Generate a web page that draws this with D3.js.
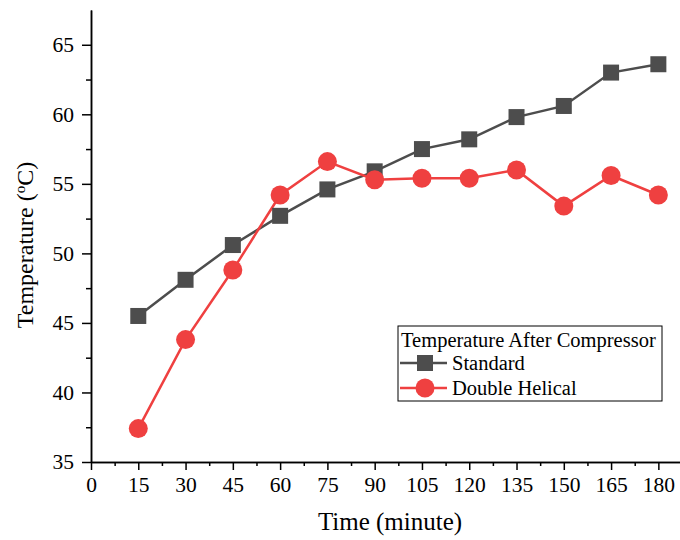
<!DOCTYPE html>
<html>
<head>
<meta charset="utf-8">
<script src="https://cdn.jsdelivr.net/npm/d3@7"></script>
<style>
  body { margin: 0; background: #fff; }
  svg text { font-family: "Liberation Serif", "Times New Roman", serif; fill: #000; }
</style>
</head>
<body>
<div id="chart"></div>
<script>
// data
var times = [15, 30, 45, 60, 75, 90, 105, 120, 135, 150, 165, 180];
var standard = [45.5, 48.1, 50.6, 52.7, 54.6, 55.9, 57.5, 58.2, 59.8, 60.6, 63.0, 63.6];
var doubleHelical = [37.4, 43.8, 48.8, 54.2, 56.6, 55.3, 55.4, 55.4, 56.0, 53.4, 55.6, 54.2];
var xTicks = [0, 15, 30, 45, 60, 75, 90, 105, 120, 135, 150, 165, 180];
var yTicks = [35, 40, 45, 50, 55, 60, 65];
var seriesNames = ["Standard", "Double Helical"];
var legendTitle = "Temperature After Compressor";

var width = 680, height = 540;
var mLeft = 91, mBottom = 462, mTop = 10, mRight = 682;

var svg = d3.select("#chart").append("svg")
    .attr("width", width)
    .attr("height", height);

var x = d3.scaleLinear().domain([0, 187.5]).range([mLeft, mRight]);
var y = d3.scaleLinear().domain([35, 67.5]).range([mBottom, mTop]);

// minor ticks
var xMinor = d3.range(7.5, 187.5, 15);
var yMinor = d3.range(37.5, 67.5, 5);

svg.append("g")
    .attr("transform", "translate(0," + mBottom + ")")
    .call(d3.axisBottom(x).tickValues(xTicks).tickSize(8).tickPadding(7).tickSizeOuter(0));
svg.append("g")
    .attr("transform", "translate(0," + mBottom + ")")
    .call(d3.axisBottom(x).tickValues(xMinor).tickSize(4).tickFormat("").tickSizeOuter(0));

svg.append("g")
    .attr("transform", "translate(" + mLeft + ",0)")
    .call(d3.axisLeft(y).tickValues(yTicks).tickSize(9).tickPadding(8).tickSizeOuter(0));
svg.append("g")
    .attr("transform", "translate(" + mLeft + ",0)")
    .call(d3.axisLeft(y).tickValues(yMinor).tickSize(5).tickFormat("").tickSizeOuter(0));

svg.selectAll(".domain").attr("stroke", "#000").attr("stroke-width", 1.5);
svg.selectAll(".tick line").attr("stroke", "#000").attr("stroke-width", 1.5);
svg.selectAll(".tick text").style("font-size", "21.5px").attr("fill", "#000");

// axis titles
svg.append("text")
    .attr("x", 390)
    .attr("y", 530)
    .attr("text-anchor", "middle")
    .style("font-size", "25px")
    .text("Time (minute)");

var yTitle = svg.append("text")
    .attr("transform", "translate(33,245) rotate(-90)")
    .attr("text-anchor", "middle")
    .style("font-size", "24px");
yTitle.append("tspan").text("Temperature (");
yTitle.append("tspan").attr("dy", -8).style("font-size", "15px").text("o");
yTitle.append("tspan").attr("dy", 8).text("C)");

var colors = ["#4d4d4d", "#ef4040"];
var allSeries = [standard, doubleHelical];

var line = d3.line()
    .x(function (d, i) { return x(times[i]); })
    .y(function (d) { return y(d); });

allSeries.forEach(function (s, k) {
    svg.append("path")
        .datum(s)
        .attr("fill", "none")
        .attr("stroke", colors[k])
        .attr("stroke-width", 2.5)
        .attr("d", line);
});

// markers
svg.selectAll("rect.std")
    .data(standard)
    .enter().append("rect")
    .attr("class", "std")
    .attr("x", function (d, i) { return x(times[i]) - 8; })
    .attr("y", function (d) { return y(d) - 8; })
    .attr("width", 16)
    .attr("height", 16)
    .attr("fill", colors[0]);

svg.selectAll("circle.dh")
    .data(doubleHelical)
    .enter().append("circle")
    .attr("class", "dh")
    .attr("cx", function (d, i) { return x(times[i]); })
    .attr("cy", function (d) { return y(d); })
    .attr("r", 9.5)
    .attr("fill", colors[1]);

// legend
var lg = svg.append("g").attr("transform", "translate(398,326)");
lg.append("rect")
    .attr("width", 264)
    .attr("height", 75)
    .attr("fill", "#fff")
    .attr("stroke", "#000")
    .attr("stroke-width", 1);
lg.append("text")
    .attr("x", 3)
    .attr("y", 21)
    .style("font-size", "20.5px")
    .text(legendTitle);

seriesNames.forEach(function (name, k) {
    var cy = 37 + k * 25;
    lg.append("line")
        .attr("x1", 2).attr("x2", 49)
        .attr("y1", cy).attr("y2", cy)
        .attr("stroke", colors[k])
        .attr("stroke-width", 2.5);
    if (k === 0) {
        lg.append("rect")
            .attr("x", 27 - 8).attr("y", cy - 8)
            .attr("width", 16).attr("height", 16)
            .attr("fill", colors[k]);
    } else {
        lg.append("circle")
            .attr("cx", 27).attr("cy", cy)
            .attr("r", 9.5)
            .attr("fill", colors[k]);
    }
    lg.append("text")
        .attr("x", 54)
        .attr("y", cy + 7)
        .style("font-size", "20.5px")
        .text(name);
});
</script>
</body>
</html>
